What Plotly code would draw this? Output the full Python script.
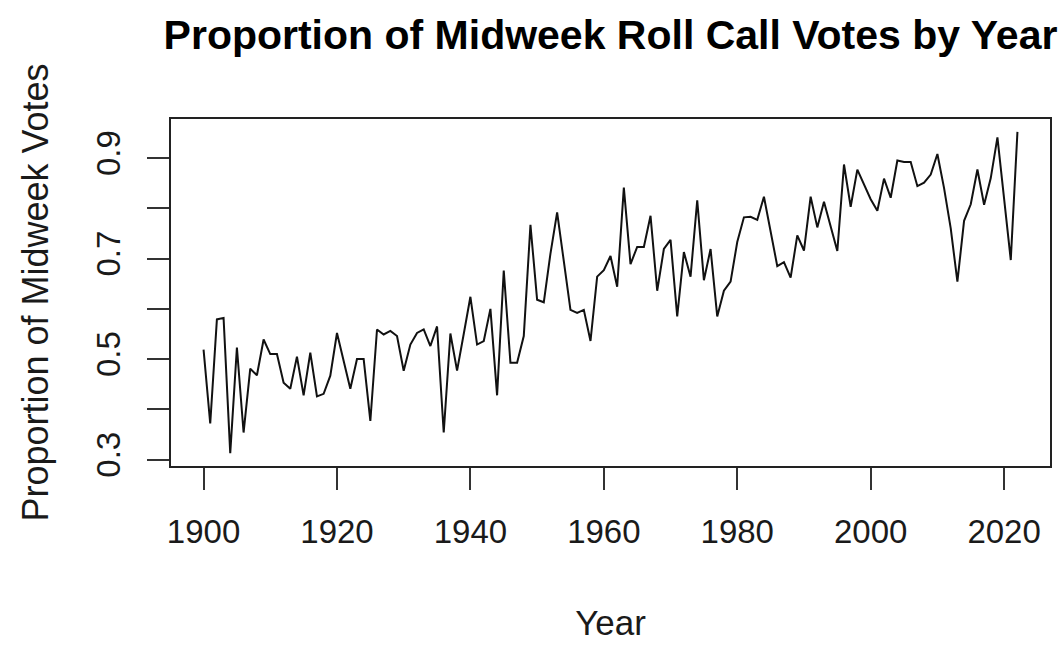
import plotly.graph_objects as go

# Share of roll call votes held midweek, one value per year
years = list(range(1900, 2023))
proportion = [
    0.519, 0.372, 0.579, 0.582, 0.313, 0.523, 0.354, 0.481, 0.468, 0.539,  # 1900s
    0.510, 0.510, 0.453, 0.441, 0.505, 0.428, 0.513, 0.426, 0.431, 0.467,  # 1910s
    0.552, 0.496, 0.441, 0.500, 0.500, 0.377, 0.559, 0.549, 0.556, 0.546,  # 1920s
    0.477, 0.529, 0.552, 0.559, 0.526, 0.565, 0.354, 0.551, 0.477, 0.550,  # 1930s
    0.624, 0.529, 0.536, 0.600, 0.428, 0.676, 0.493, 0.493, 0.546, 0.767,  # 1940s
    0.618, 0.613, 0.710, 0.792, 0.690, 0.598, 0.592, 0.598, 0.536, 0.664,  # 1950s
    0.677, 0.705, 0.644, 0.841, 0.689, 0.723, 0.723, 0.785, 0.636, 0.719,  # 1960s
    0.737, 0.585, 0.713, 0.664, 0.816, 0.657, 0.719, 0.585, 0.636, 0.654,  # 1970s
    0.733, 0.782, 0.783, 0.777, 0.823, 0.752, 0.685, 0.693, 0.662, 0.746,  # 1980s
    0.716, 0.823, 0.762, 0.813, 0.764, 0.715, 0.887, 0.803, 0.877, 0.847,  # 1990s
    0.818, 0.795, 0.859, 0.821, 0.895, 0.892, 0.892, 0.844, 0.851, 0.867,  # 2000s
    0.908, 0.840, 0.760, 0.654, 0.775, 0.808, 0.877, 0.807, 0.860, 0.941,  # 2010s
    0.818, 0.697, 0.952,                                                    # 2020s
]

x_ticks = [1900, 1920, 1940, 1960, 1980, 2000, 2020]
y_ticks = [0.3, 0.4, 0.5, 0.6, 0.7, 0.8, 0.9]
y_tick_text = ["0.3", "", "0.5", "", "0.7", "", "0.9"]

title_text = "Proportion of Midweek Roll Call Votes by Year"
x_label = "Year"
y_label = "Proportion of Midweek Votes"


def padded(lo, hi, frac=0.04):
    span = hi - lo
    return [lo - frac * span, hi + frac * span]


FONT = "Liberation Sans, Arial, Helvetica, sans-serif"

fig = go.Figure(
    go.Scatter(
        x=years,
        y=proportion,
        mode="lines",
        line=dict(color="#111111", width=2),
        showlegend=False,
    )
)

axis_common = dict(
    showgrid=False,
    zeroline=False,
    showline=True,
    mirror=True,
    linecolor="#222222",
    linewidth=2,
    ticks="outside",
    ticklen=22,
    tickwidth=1.8,
    tickcolor="#333333",
    tickfont=dict(family=FONT, size=33, color="#1a1a1a"),
)

fig.update_layout(
    width=1062,
    height=646,
    paper_bgcolor="white",
    plot_bgcolor="white",
    margin=dict(l=171, r=10, t=119, b=177),
    title=dict(
        text="<b>" + title_text + "</b>",
        font=dict(family=FONT, size=41, color="#000000"),
        x=0.5,
        xref="paper",
        xanchor="center",
        y=1 - 35 / 646,
        yref="container",
        yanchor="middle",
    ),
    xaxis=dict(
        range=padded(min(years), max(years)),
        tickmode="array",
        tickvals=x_ticks,
        ticktext=[str(v) for v in x_ticks],
        ticklabelstandoff=13,
        title=dict(text=x_label, font=dict(family=FONT, size=35, color="#1a1a1a"), standoff=62),
        **axis_common,
    ),
    yaxis=dict(
        range=padded(min(proportion), max(proportion)),
        tickmode="array",
        tickvals=y_ticks,
        ticktext=y_tick_text,
        tickangle=-90,
        ticklabelstandoff=14,
        title=dict(text=y_label, font=dict(family=FONT, size=36, color="#1a1a1a"), standoff=30),
        **axis_common,
    ),
)

fig.write_html("out.html")
